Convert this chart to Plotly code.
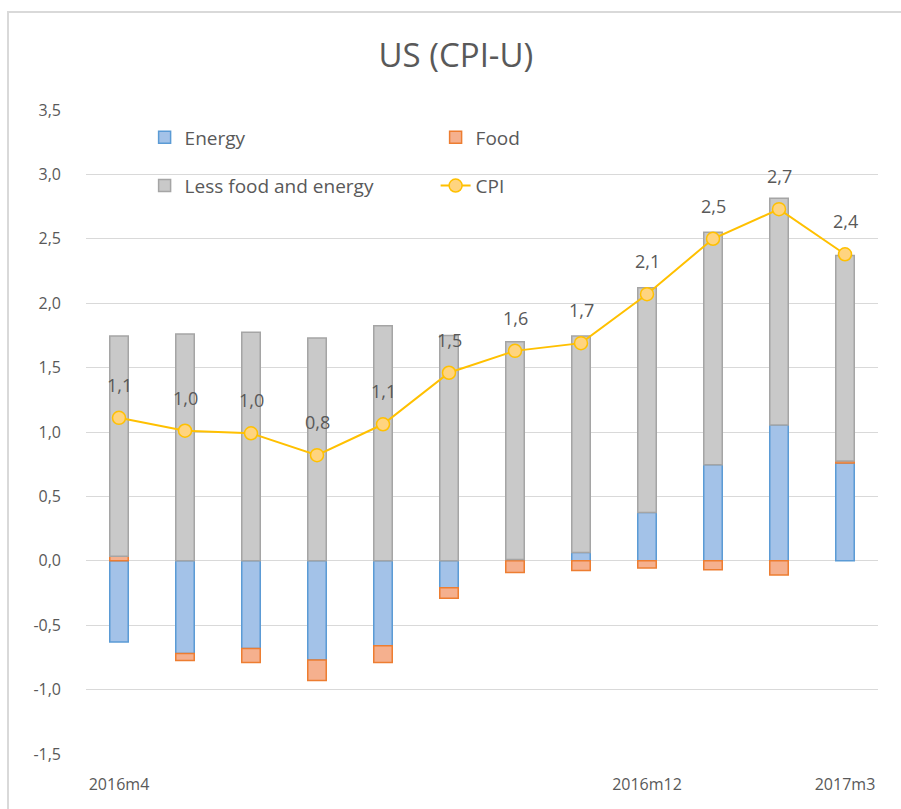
import plotly.graph_objects as go

months = ["2016m4", "2016m5", "2016m6", "2016m7", "2016m8", "2016m9",
          "2016m10", "2016m11", "2016m12", "2017m1", "2017m2", "2017m3"]
energy = [-0.63, -0.72, -0.68, -0.77, -0.66, -0.21, 0.01, 0.065, 0.375, 0.745, 1.055, 0.76]
food = [0.035, -0.055, -0.11, -0.16, -0.13, -0.08, -0.09, -0.075, -0.055, -0.07, -0.11, 0.015]
less_food_energy = [1.71, 1.76, 1.775, 1.73, 1.825, 1.75, 1.69, 1.68, 1.745, 1.805, 1.76, 1.595]
cpi = [1.11, 1.01, 0.99, 0.82, 1.06, 1.46, 1.63, 1.69, 2.07, 2.50, 2.73, 2.38]
x_tick_labels = ["2016m4", "2016m12", "2017m3"]
y_tick_values = [-1.5, -1.0, -0.5, 0.0, 0.5, 1.0, 1.5, 2.0, 2.5, 3.0, 3.5]
y_tick_labels = ["-1,5", "-1,0", "-0,5", "0,0", "0,5", "1,0", "1,5", "2,0", "2,5", "3,0", "3,5"]

FONT = "Open Sans"
TXT = "#595959"

fig = go.Figure()
fig.add_trace(go.Bar(x=months, y=energy, name="Energy", width=0.28,
                     marker=dict(color="#A3C2E8", line=dict(color="#5B9BD5", width=1.5)),
                     legend="legend"))
fig.add_trace(go.Bar(x=months, y=food, name="Food", width=0.28,
                     marker=dict(color="#F5B08E", line=dict(color="#ED7D31", width=1.5)),
                     legend="legend"))
fig.add_trace(go.Bar(x=months, y=less_food_energy, name="Less food and energy", width=0.28,
                     marker=dict(color="#C9C9C9", line=dict(color="#A5A5A5", width=1.5)),
                     legend="legend2"))
fig.add_trace(go.Scatter(x=months, y=cpi, name="CPI", mode="lines+markers",
                         line=dict(color="#FFC000", width=2),
                         marker=dict(size=13, color="#FFD47F", line=dict(color="#FFC000", width=1.5)),
                         legend="legend2"))

annotations = []
for m, v in zip(months, cpi):
    annotations.append(dict(x=m, y=v, text=f"{v:.1f}".replace(".", ","), showarrow=False,
                            yshift=33, font=dict(family=FONT, size=18, color=TXT)))

fig.update_layout(
    width=901, height=809,
    barmode="relative",
    separators=",.",
    paper_bgcolor="white", plot_bgcolor="white",
    margin=dict(l=86, r=23, t=110, b=55),
    title=dict(text="US (CPI-U)", x=0.506, xanchor="center", y=0.932, yanchor="middle",
               font=dict(family=FONT, size=33, color=TXT)),
    font=dict(family=FONT, color=TXT),
    legend=dict(orientation="h", x=0.074, xanchor="left", y=0.987, yanchor="top",
                entrywidth=246, entrywidthmode="pixels",
                font=dict(family=FONT, size=19, color=TXT), bgcolor="rgba(0,0,0,0)",
                traceorder="normal"),
    legend2=dict(orientation="h", x=0.074, xanchor="left", y=0.912, yanchor="top",
                 entrywidth=246, entrywidthmode="pixels",
                 font=dict(family=FONT, size=19, color=TXT), bgcolor="rgba(0,0,0,0)",
                 traceorder="normal"),
    annotations=annotations,
    shapes=[dict(type="rect", xref="paper", yref="paper", x0=-0.0985, x1=1.2, y0=-0.3, y1=1.152,
                 line=dict(color="#D9D9D9", width=2), fillcolor="rgba(0,0,0,0)", layer="below")],
)
fig.update_yaxes(range=[-1.5, 3.5], tickmode="array", tickvals=y_tick_values, ticktext=y_tick_labels,
                 showgrid=True, gridcolor="#D9D9D9", gridwidth=1.3,
                 zeroline=False, showline=False, ticks="",
                 ticklabelstandoff=24,
                 tickfont=dict(family=FONT, size=16, color=TXT))
fig.update_xaxes(type="category", range=[-0.5, 11.5], tickmode="array",
                 tickvals=x_tick_labels, ticktext=x_tick_labels,
                 showgrid=False, showline=False, ticks="", ticklabelstandoff=19,
                 tickfont=dict(family=FONT, size=16, color=TXT))

fig.write_html("out.html", config={"displayModeBar": False},
               post_script="document.body.style.margin='0';document.body.style.overflow='hidden';")
